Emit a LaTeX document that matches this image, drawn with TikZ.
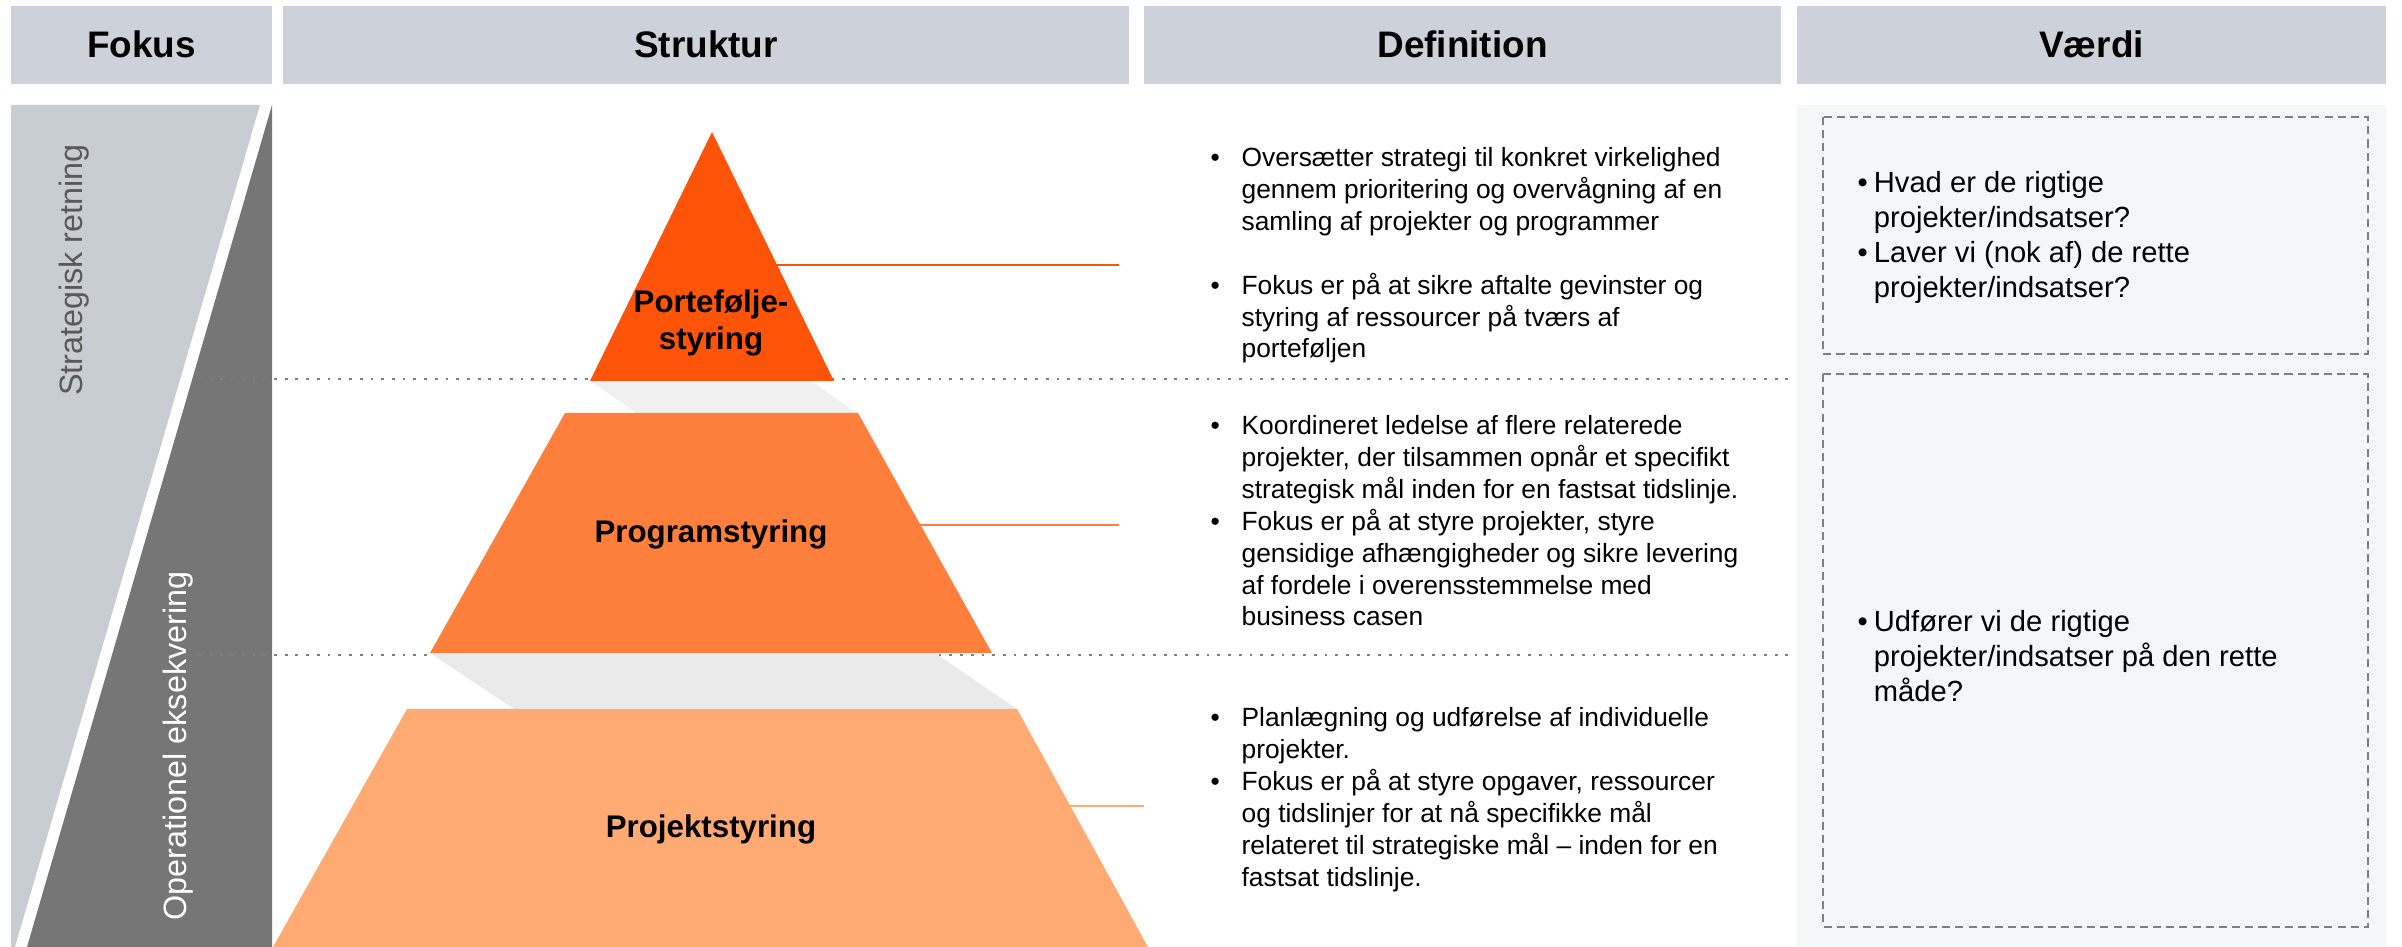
\documentclass[tikz,border=0pt]{standalone}
\usepackage{fontspec}
\setmainfont{Liberation Sans}
\usepackage{array}

\definecolor{hdrgray}{HTML}{CDD1D9}
\definecolor{panelgray}{HTML}{C8CCD3}
\definecolor{fokusdark}{HTML}{767676}
\definecolor{valbg}{HTML}{F5F6F8}
\definecolor{porte}{HTML}{FE5409}
\definecolor{prog}{HTML}{FE7E3C}
\definecolor{proj}{HTML}{FEAA72}
\definecolor{gapA}{HTML}{F0F0F0}
\definecolor{gapB}{HTML}{EAEAEA}
\definecolor{linegray}{HTML}{7F7F7F}
\definecolor{sidetext}{HTML}{595959}

\begin{document}
\begin{tikzpicture}
  [x=0.1mm,y=-0.1mm,
   hdr/.style={font=\fontsize{10.5}{12}\selectfont\bfseries},
   pyr/.style={font=\fontsize{8.9}{10.8}\selectfont\bfseries,align=center},
   deftext/.style={font=\fontsize{7.5}{9.05}\selectfont,inner sep=0pt,anchor=base west},
   valtext/.style={font=\fontsize{8.3}{9.95}\selectfont,inner sep=0pt,anchor=base west},
   sidelbl/.style={font=\fontsize{9.2}{11}\selectfont,rotate=90},
   dots/.style={linegray,line width=0.8pt,dash pattern=on 0.8pt off 2.25pt},
   dashbox/.style={linegray,line width=0.55pt,dash pattern=on 2.3pt off 1.45pt},
   conn/.style={line width=0.6pt}]
  \useasboundingbox (0,0) rectangle (2402,947);

  % column headers
  \foreach \xa/\xb/\nm/\txt in {11/272/fokus/Fokus,283/1129/struktur/Struktur,1144/1781/definition/Definition,1797/2386/vaerdi/Værdi}{
    \fill[hdrgray] (\xa,6) rectangle (\xb,84);
    \node[hdr] (h\nm) at ({(\xa+\xb)/2},44) {\txt};
  }

  % fokus column
  \fill[panelgray] (11,105) -- (260,105) -- (15,947) -- (11,947) -- cycle;
  \fill[fokusdark] (272,105) -- (272,947) -- (27,947) -- cycle;
  \node[sidelbl,sidetext] (strat) at (74,270) {Strategisk retning};
  \node[sidelbl,white] (oper) at (178,746) {Operationel eksekvering};

  % vaerdi column
  \fill[valbg] (1797,105) rectangle (2386,947);
  \draw[dashbox] (1823,117) rectangle (2368,354);
  \draw[dashbox] (1823,374) rectangle (2368,927);

  % level lines
  \draw[dots] (199,379) -- (1790,379);
  \draw[dots] (199,655) -- (1790,655);

  % pyramid
  \fill[gapA] (590,381) -- (811,381) -- (857,413) -- (636,413) -- cycle;
  \fill[gapB] (430,653) -- (935,653) -- (1017,709) -- (514,709) -- cycle;
  \fill[porte] (712,132) -- (834,381) -- (590,381) -- cycle;
  \fill[prog] (565,413) -- (858,413) -- (992,653) -- (430,653) -- cycle;
  \fill[proj] (407,709) -- (1017,709) -- (1148,947) -- (273,947) -- cycle;

  \node[pyr] (portelbl) at (711,323) {Portefølje-\\styring};
  \node[pyr] (proglbl) at (711,534) {Programstyring};
  \node[pyr] (projlbl) at (711,829) {Projektstyring};

  \foreach \xa/\xb/\y/\c in {777/1119/265/porte,920/1119/525/prog,1070/1144/806/proj}{
    \coordinate (s\c) at (\xa,\y);
    \coordinate (e\c) at (\xb,\y);
    \draw[conn,\c] (s\c) -- (e\c);
  }

  % definitions
  \node[deftext] (def1) at (1210,167) {\begin{tabular}[t]{@{}p{8.8pt}@{}l@{}}
    \textbullet & Oversætter strategi til konkret virkelighed\\
    & gennem prioritering og overvågning af en\\
    & samling af projekter og programmer\\
    & \\
    \textbullet & Fokus er på at sikre aftalte gevinster og\\
    & styring af ressourcer på tværs af\\
    & porteføljen
  \end{tabular}};
  \node[deftext] (def2) at (1210,435) {\begin{tabular}[t]{@{}p{8.8pt}@{}l@{}}
    \textbullet & Koordineret ledelse af flere relaterede\\
    & projekter, der tilsammen opnår et specifikt\\
    & strategisk mål inden for en fastsat tidslinje.\\
    \textbullet & Fokus er på at styre projekter, styre\\
    & gensidige afhængigheder og sikre levering\\
    & af fordele i overensstemmelse med\\
    & business casen
  \end{tabular}};
  \node[deftext] (def3) at (1210,727) {\begin{tabular}[t]{@{}p{8.8pt}@{}l@{}}
    \textbullet & Planlægning og udførelse af individuelle\\
    & projekter.\\
    \textbullet & Fokus er på at styre opgaver, ressourcer\\
    & og tidslinjer for at nå specifikke mål\\
    & relateret til strategiske mål – inden for en\\
    & fastsat tidslinje.
  \end{tabular}};

  % values
  \node[valtext] (val1) at (1857,193) {\begin{tabular}[t]{@{}p{4.6pt}@{}l@{}}
    \textbullet & Hvad er de rigtige\\
    & projekter/indsatser?\\
    \textbullet & Laver vi (nok af) de rette\\
    & projekter/indsatser?
  \end{tabular}};
  \node[valtext] (val2) at (1857,632) {\begin{tabular}[t]{@{}p{4.6pt}@{}l@{}}
    \textbullet & Udfører vi de rigtige\\
    & projekter/indsatser på den rette\\
    & måde?
  \end{tabular}};

\end{tikzpicture}
\end{document}
